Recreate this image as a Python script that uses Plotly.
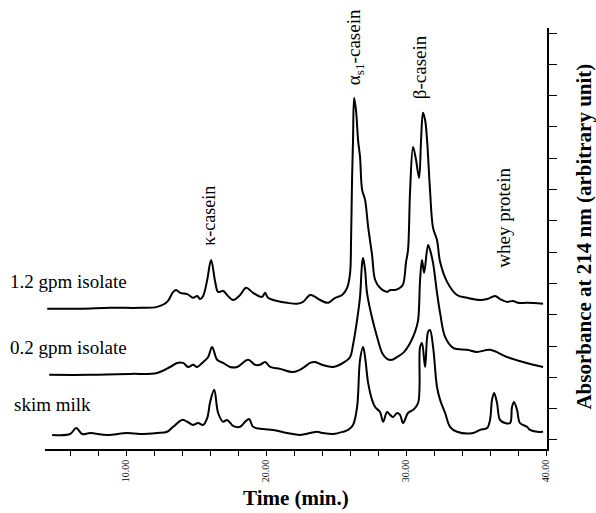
import plotly.graph_objects as go

# Retention time (min) and absorbance (arbitrary units, offset traces)
t_12 = [4.36, 6.71, 8.86, 11.0, 12.21, 12.93, 13.36, 13.57, 13.86, 14.36, 14.79, 15.07, 15.29, 15.5,
        15.79, 16.07, 16.36, 16.57, 16.93, 17.21, 17.64, 18.14, 18.57, 19.07, 19.71, 19.93, 20.14,
        20.79, 21.5, 22.21, 22.64, 23.14, 23.5, 23.86, 24.43, 24.93, 25.43, 25.79, 26.0, 26.07, 26.14,
        26.21, 26.29, 26.43, 26.57, 26.71, 26.86, 27.07, 27.29, 27.57, 27.79, 28.14, 28.64, 28.86,
        29.21, 29.57, 29.79, 30.0, 30.14, 30.29, 30.5, 30.71, 30.93, 31.07, 31.21, 31.36, 31.5, 31.71,
        31.93, 32.21, 32.43, 32.93, 33.64, 34.36, 35.29, 35.79, 36.36, 36.71, 37.21, 37.64, 38.0,
        38.64, 39.79]
a_12 = [4.19, 4.19, 4.22, 4.22, 4.25, 4.41, 4.73, 4.79, 4.70, 4.66, 4.54, 4.60, 4.50, 4.60,
        5.11, 5.75, 5.05, 4.73, 4.76, 4.63, 4.47, 4.63, 4.86, 4.70, 4.57, 4.70, 4.54,
        4.44, 4.38, 4.35, 4.41, 4.63, 4.57, 4.47, 4.38, 4.54, 4.63, 4.86, 5.34, 6.39, 8.31,
        9.58, 10.93, 10.5, 9.58, 9.04, 7.99, 7.67, 6.81, 5.91, 5.11, 4.86, 4.73, 4.79,
        4.79, 4.86, 4.98, 5.69, 6.07, 7.99, 9.36, 8.95, 8.37, 9.58, 10.45, 10.22, 9.58, 7.99,
        6.77, 6.39, 5.69, 5.05, 4.63, 4.54, 4.47, 4.50, 4.60, 4.50, 4.41, 4.44, 4.38,
        4.38, 4.35]

t_02 = [4.5, 7.43, 10.29, 12.21, 13.14, 13.64, 14.07, 14.43, 14.79, 15.07, 15.43, 15.86, 16.14,
        16.5, 16.93, 17.43, 17.93, 18.71, 19.21, 19.57, 19.93, 20.29, 21.0, 21.93, 22.64, 23.14,
        23.5, 24.0, 24.79, 25.5, 26.0, 26.21, 26.36, 26.57, 26.71, 26.86, 26.93, 27.07, 27.21,
        27.57, 27.93, 28.29, 28.64, 29.0, 29.36, 29.79, 30.29, 30.64, 30.86, 31.0, 31.14, 31.29,
        31.57, 31.71, 31.93, 32.21, 32.43, 32.79, 33.36, 34.36, 35.07, 36.0, 37.21, 38.36, 39.79]
a_02 = [2.08, 2.08, 2.11, 2.14, 2.33, 2.46, 2.46, 2.33, 2.40, 2.33, 2.46, 2.65, 2.97,
        2.56, 2.46, 2.33, 2.33, 2.56, 2.40, 2.40, 2.49, 2.33, 2.27, 2.17, 2.30, 2.46,
        2.49, 2.40, 2.33, 2.46, 2.65, 3.04, 3.42, 4.06, 4.57, 5.65, 5.81, 5.43, 4.70,
        3.90, 3.29, 2.78, 2.59, 2.56, 2.65, 2.78, 3.10, 3.45, 3.83, 5.11, 5.75, 5.34,
        6.23, 6.07, 5.65, 4.70, 4.06, 3.29, 2.94, 2.88, 2.81, 2.88, 2.65, 2.49, 2.33]

t_sk = [4.71, 6.0, 6.43, 6.86, 7.43, 8.64, 10.07, 11.0, 12.21, 12.93, 13.36, 14.0, 14.36, 14.79,
        15.14, 15.5, 15.79, 16.0, 16.29, 16.57, 16.93, 17.21, 17.64, 18.14, 18.5, 18.79, 19.07,
        19.79, 20.5, 21.5, 22.43, 23.14, 23.64, 24.07, 24.79, 25.5, 25.86, 26.21, 26.5, 26.71,
        26.93, 27.07, 27.29, 27.57, 27.79, 28.14, 28.36, 28.64, 28.86, 29.07, 29.36, 29.57, 29.79,
        30.14, 30.5, 30.86, 31.0, 31.14, 31.36, 31.57, 31.71, 31.93, 32.21, 32.43, 32.79, 33.14,
        33.64, 34.79, 35.29, 35.79, 36.0, 36.14, 36.29, 36.5, 36.71, 37.07, 37.43, 37.57, 37.71,
        37.93, 38.14, 38.64, 38.86, 39.36, 39.79]
a_sk = [0.16, 0.19, 0.38, 0.19, 0.22, 0.16, 0.22, 0.19, 0.22, 0.26, 0.42, 0.64, 0.58, 0.48,
        0.54, 0.48, 0.70, 1.21, 1.60, 0.86, 0.58, 0.64, 0.45, 0.42, 0.58, 0.67, 0.42,
        0.35, 0.32, 0.22, 0.16, 0.22, 0.26, 0.22, 0.19, 0.26, 0.32, 0.48, 1.05, 2.56,
        2.97, 2.65, 1.82, 1.28, 1.05, 0.89, 0.58, 0.89, 0.80, 0.73, 0.86, 0.80, 0.54,
        0.86, 0.96, 1.18, 2.97, 3.10, 2.33, 3.45, 3.51, 2.97, 1.69, 1.28, 0.86, 0.42,
        0.26, 0.22, 0.32, 0.38, 0.64, 1.28, 1.50, 1.18, 0.64, 0.54, 0.54, 1.05, 1.21,
        0.96, 0.54, 0.42, 0.32, 0.26, 0.26]

x_tickvals = [10, 20, 30, 40]
x_ticktext = ["10.00", "20.00", "30.00", "40.00"]
y_tickvals = list(range(0, 14))

serif = "Liberation Serif"

fig = go.Figure()
for t, a in [(t_12, a_12), (t_02, a_02), (t_sk, a_sk)]:
    fig.add_trace(go.Scatter(x=t, y=a, mode="lines", line=dict(color="black", width=2),
                             line_shape="spline", showlegend=False, hoverinfo="skip"))

fig.update_layout(
    width=596, height=513,
    margin=dict(l=45, r=49, t=28, b=64),
    paper_bgcolor="white", plot_bgcolor="white",
    font=dict(family=serif, color="black"),
    xaxis=dict(range=[4.2, 40.07], tickvals=x_tickvals, ticktext=x_ticktext,
               tickangle=-90, ticks="outside", ticklen=5, tickwidth=1.2, tickcolor="black",
               minor=dict(ticks="outside", tick0=0, dtick=2, ticklen=5, tickwidth=1.2,
                          tickcolor="black", showgrid=False),
               showline=True, linecolor="black", linewidth=1.5, showgrid=False, zeroline=False,
               tickfont=dict(size=10, family=serif)),
    yaxis=dict(range=[-0.29, 13.16], side="right", tickvals=y_tickvals, showticklabels=False,
               ticks="outside", ticklen=8, tickwidth=1.2, tickcolor="black",
               showline=True, linecolor="black", linewidth=1.5, showgrid=False, zeroline=False),
)

ann = [
    dict(text="κ-casein", x=0.328, y=0.553, size=18),
    dict(text="α<sub>s1</sub>-casein", x=0.618, y=0.955, size=19),
    dict(text="β-casein", x=0.745, y=0.907, size=19),
    dict(text="whey protein", x=0.914, y=0.549, size=19),
]
for a in ann:
    fig.add_annotation(text=a["text"], x=a["x"], y=a["y"], xref="paper", yref="paper",
                       xanchor="center", yanchor="middle", textangle=-90, showarrow=False,
                       font=dict(size=a["size"], family=serif, color="black"))

for txt, xp, y in [("1.2 gpm isolate", -0.074, 0.397), ("0.2 gpm isolate", -0.074, 0.242),
                   ("skim milk", -0.066, 0.105)]:
    fig.add_annotation(text=txt, x=xp, y=y, xref="paper", yref="paper",
                       xanchor="left", yanchor="middle", showarrow=False,
                       font=dict(size=19, family=serif, color="black"))

fig.add_annotation(text="<b>Time (min.)</b>", x=0.5, y=-0.116, xref="paper", yref="paper",
                   xanchor="center", yanchor="middle", showarrow=False,
                   font=dict(size=21, family=serif, color="black"))
fig.add_annotation(text="<b>Absorbance at 214 nm (arbitrary unit)</b>", x=1.074, y=0.505,
                   xref="paper", yref="paper", xanchor="center", yanchor="middle",
                   textangle=-90, showarrow=False,
                   font=dict(size=21, family=serif, color="black"))

fig.write_html("out.html")
